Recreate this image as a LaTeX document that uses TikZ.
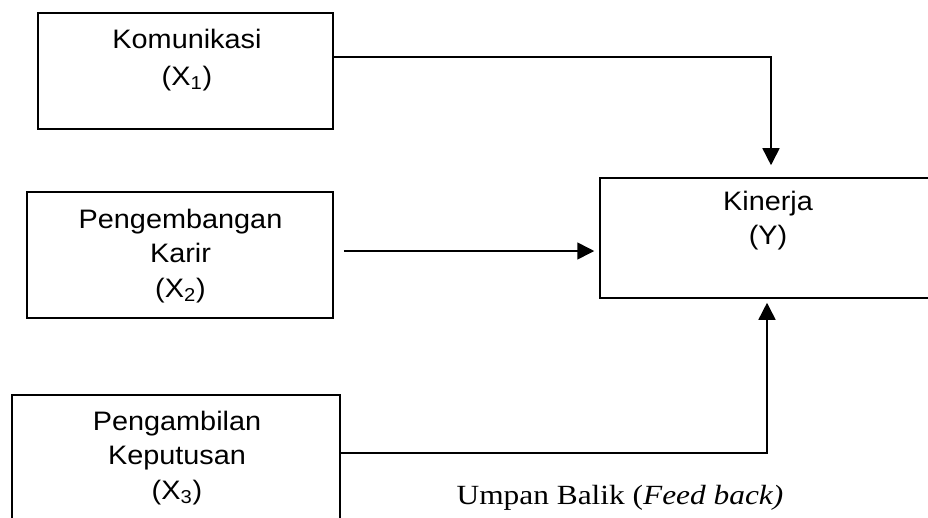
\documentclass[tikz,border=0pt]{standalone}
\usepackage{fontspec}
\setmainfont{Liberation Serif}[FakeStretch=1.13]
\setsansfont{Liberation Sans}[FakeStretch=1.08]
\usetikzlibrary{arrows.meta,calc}

\begin{document}
\begin{tikzpicture}[x=0.02cm, y=-0.02cm,
    box/.style={draw, line width=0.9pt, inner sep=0pt},
    txt/.style={align=center, inner sep=0pt, anchor=north,
      font=\sffamily\fontsize{15.2}{19.5}\selectfont},
    arr/.style={line width=0.9pt, -{Triangle[length=0.34cm, width=0.34cm]}}]
    \clip (0, 0) rectangle (928, 517);

    % Boxes
    \node[box, minimum width=5.9cm, minimum height=2.32cm] (kom) at (185.5, 71) {};
    \node[box, minimum width=6.12cm, minimum height=2.52cm] (kar) at (180, 255) {};
    \node[box, minimum width=6.56cm, minimum height=2.8cm] (kep) at (176, 465) {};
    \node[box, minimum width=6.72cm, minimum height=2.4cm] (kin) at (768, 238) {};

    % Box texts
    \node[txt] (komT) at (187, 29) {Komunikasi\\[1.5pt](X\textsubscript{1})};
    \node[txt] (karT) at (180.5, 209) {Pengembangan\\Karir\\(X\textsubscript{2})};
    \node[txt] (kepT) at (177, 411) {Pengambilan\\Keputusan\\(X\textsubscript{3})};
    \node[txt] (kinT) at (768, 191) {Kinerja\\(Y)};

    % Arrows
    \draw[arr] ([yshift=0.28cm]kom.east) -| ([xshift=0.06cm, yshift=0.24cm]kin.north);
    \draw[arr] ([xshift=0.2cm, yshift=0.08cm]kar.east) coordinate (a2)
      -- ($(a2 -| kin.west) + (-5, 0)$);
    \draw[arr] ([yshift=0.24cm]kep.east) -| ([xshift=-0.02cm, yshift=-0.08cm]kin.south);

    % Feedback label
    \node[anchor=base, inner sep=0pt, font=\fontsize{15.8}{19}\selectfont] (fb)
      at (620, 504) {Umpan Balik (\textit{Feed back)}};
\end{tikzpicture}
\end{document}
